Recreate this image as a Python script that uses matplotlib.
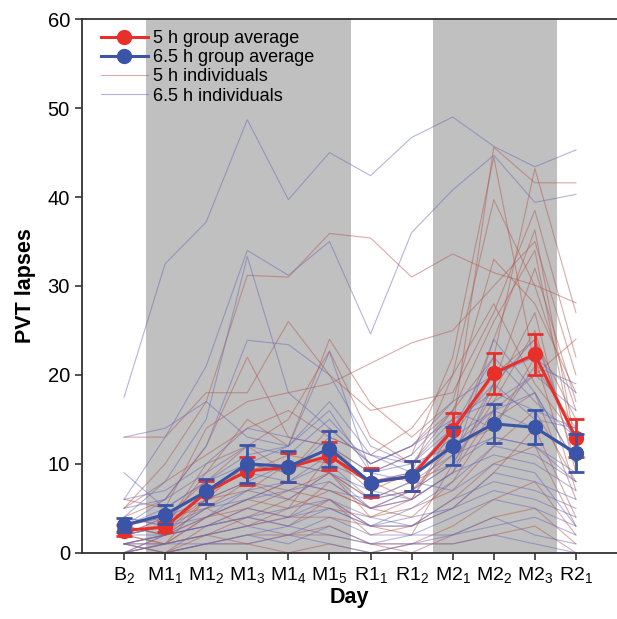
import numpy as np
import matplotlib.pyplot as plt
from matplotlib.lines import Line2D

days = [r'B$_2$', r'M1$_1$', r'M1$_2$', r'M1$_3$', r'M1$_4$', r'M1$_5$',
        r'R1$_1$', r'R1$_2$', r'M2$_1$', r'M2$_2$', r'M2$_3$', r'R2$_1$']

# group averages and standard errors
avg_5h = [2.5, 2.9, 6.8, 9.2, 9.6, 10.9, 7.9, 8.6, 13.8, 20.2, 22.3, 12.9]
se_5h = [0.6, 0.6, 1.3, 1.6, 1.6, 1.6, 1.6, 1.7, 1.9, 2.3, 2.3, 2.1]
avg_65h = [3.1, 4.3, 6.9, 10.0, 9.7, 11.7, 7.9, 8.6, 12.0, 14.5, 14.1, 11.2]
se_65h = [0.8, 1.1, 1.4, 2.1, 1.7, 2.0, 1.4, 1.7, 2.1, 2.2, 1.9, 2.1]

# individual subjects, 5 h group
ind_5h = [
    [5, 10, 17, 31.2, 31.0, 35.9, 35.4, 31.0, 33.6, 31.5, 30.1, 28.1],
    [1, 2, 5, 8, 6, 9, 4, 6, 14, 45.6, 41.6, 41.6],
    [3, 4, 8, 12, 15, 22.7, 13, 10, 16, 22, 43.2, 27],
    [2, 1, 6, 10, 9, 12, 8, 9, 20, 39.7, 30, 16],
    [0, 2, 4, 6, 8, 7, 5, 7, 12, 24, 36.3, 12],
    [13, 13, 18, 18, 26, 20, 16, 17, 18, 27, 38.5, 22],
    [4, 6, 12, 22, 13, 12, 9, 11, 22, 44.5, 21, 14],
    [1, 0, 3, 5, 7, 6, 3, 2, 10, 18, 27, 9],
    [6, 5, 14, 17, 18, 19, 21.3, 23.6, 25, 30, 35, 20],
    [2, 3, 10, 12, 9, 14, 10, 12, 16, 26, 34, 11],
    [0, 1, 2, 4, 3, 6, 2, 3, 5, 9, 14, 4],
    [3, 2, 7, 9, 11, 10, 8, 6, 13, 20, 24, 15],
    [1, 1, 4, 5, 4, 8, 5, 4, 8, 15, 18, 6],
    [0, 0, 1, 2, 2, 3, 1, 1, 3, 6, 8, 2],
    [5, 8, 11, 14, 16, 13, 11, 14, 20, 28, 19, 13],
    [2, 3, 6, 7, 10, 9, 6, 8, 10, 17, 25, 10],
    [1, 2, 3, 4, 6, 5, 4, 5, 7, 12, 16, 8],
    [0, 1, 2, 1, 2, 2, 1, 0, 2, 4, 5, 1],
    [4, 3, 9, 15, 12, 24, 16.8, 13, 17, 33, 28, 18],
    [2, 4, 5, 3, 5, 11, 7, 9, 12, 14, 22, 7],
    [1, 0, 2, 3, 4, 4, 3, 3, 6, 10, 12, 3],
    [3, 2, 6, 8, 7, 9, 6, 7, 11, 19, 32, 17],
    [0, 0, 1, 1, 0, 1, 0, 1, 1, 2, 3, 0],
    [2, 1, 4, 6, 5, 7, 5, 6, 9, 16, 20, 24],
]

# individual subjects, 6.5 h group
ind_65h = [
    [17.5, 32.5, 37.2, 48.7, 39.7, 45.0, 42.4, 46.7, 49.0, 45.7, 43.4, 45.3],
    [6, 13, 21, 34.0, 31.2, 35.0, 24.6, 36.0, 40.8, 44.7, 39.4, 40.3],
    [4, 8, 15, 33.3, 18, 14, 10, 12, 17, 20, 22, 18],
    [3, 6, 12, 23.9, 23.4, 20.0, 12, 10, 15, 18, 16, 14],
    [9, 5, 8, 10, 12, 22.6, 9, 8, 11, 13, 12, 9],
    [2, 3, 5, 7, 8, 10, 6, 7, 10, 24, 18, 10],
    [1, 2, 3, 5, 4, 6, 3, 5, 8, 12, 11, 8],
    [0, 1, 2, 3, 2, 4, 2, 2, 4, 6, 5, 3],
    [3, 4, 6, 8, 10, 9, 7, 6, 9, 19, 24, 12],
    [5, 6, 9, 12, 11, 15, 10, 12, 15, 17, 20, 16],
    [1, 0, 1, 2, 3, 2, 1, 1, 2, 3, 4, 2],
    [2, 2, 4, 6, 7, 8, 5, 6, 9, 11, 10, 7],
    [4, 3, 7, 9, 8, 11, 8, 9, 13, 16, 14, 11],
    [0, 1, 1, 2, 1, 3, 1, 2, 2, 4, 2, 1],
    [2, 4, 7, 10, 9, 13, 11, 10, 14, 22, 17, 13],
    [1, 2, 3, 4, 5, 6, 4, 3, 6, 8, 7, 5],
    [3, 5, 8, 11, 12, 16, 9, 11, 16, 14, 21, 19],
    [0, 0, 1, 1, 2, 1, 0, 1, 1, 2, 1, 0],
    [2, 3, 4, 7, 6, 9, 5, 7, 10, 13, 12, 8],
    [1, 1, 2, 3, 4, 5, 3, 4, 5, 7, 6, 4],
    [6, 7, 10, 14, 13, 12, 9, 10, 12, 16, 18, 10],
    [13, 14, 17, 13, 12, 17, 11, 9, 14, 19, 15, 14],
    [0, 2, 3, 4, 3, 5, 3, 3, 5, 9, 8, 6],
    [3, 2, 5, 6, 8, 7, 6, 8, 7, 10, 9, 3],
]

# restriction periods (shaded)
shade_spans = [(0.53, 5.53), (7.53, 10.53)]

RED = '#e8302a'
BLUE = '#3a55a8'
RED_IND = '#b05a50'
BLUE_IND = '#6a6ab8'


def main():
    plt.rcParams['font.family'] = ['Liberation Sans', 'DejaVu Sans']
    plt.rcParams['mathtext.default'] = 'regular'

    fig = plt.figure(figsize=(6.17, 6.19), dpi=100)
    ax = fig.add_axes([0.1325, 0.107, 0.8675, 0.862])

    for x0, x1 in shade_spans:
        ax.axvspan(x0, x1, color='#c0c0c0', lw=0, zorder=0)

    x = np.arange(len(days))
    for row in ind_5h:
        ax.plot(x, row, color=RED_IND, lw=0.8, alpha=0.5, zorder=1)
    for row in ind_65h:
        ax.plot(x, row, color=BLUE_IND, lw=0.8, alpha=0.5, zorder=1)

    ax.errorbar(x, avg_5h, yerr=se_5h, color=RED, lw=2.2, marker='o', ms=10,
                capsize=6, capthick=2, elinewidth=2, zorder=3)
    ax.errorbar(x, avg_65h, yerr=se_65h, color=BLUE, lw=2.2, marker='o', ms=10,
                capsize=6, capthick=2, elinewidth=2, zorder=4)

    ax.set_xlim(-1.03, 12)
    ax.set_ylim(0, 60)
    ax.set_xticks(x)
    ax.set_xticklabels(days, fontsize=14)
    ax.set_yticks(range(0, 61, 10))
    ax.tick_params(axis='y', labelsize=14.5, length=5, width=1.2, color='#333333')
    ax.tick_params(axis='x', length=5, width=1.2, color='#333333')
    ax.set_xlabel('Day', fontsize=15.5, fontweight='bold', labelpad=2)
    ax.set_ylabel('PVT lapses', fontsize=15.5, fontweight='bold', labelpad=8)
    ax.spines['right'].set_visible(False)
    for s in ['left', 'bottom', 'top']:
        ax.spines[s].set_linewidth(1.3)
        ax.spines[s].set_color('#333333')

    handles = [
        Line2D([], [], color=RED, lw=2.2, marker='o', ms=10),
        Line2D([], [], color=BLUE, lw=2.2, marker='o', ms=10),
        Line2D([], [], color=RED_IND, lw=0.8, alpha=0.5),
        Line2D([], [], color=BLUE_IND, lw=0.8, alpha=0.5),
    ]
    labels = ['5 h group average', '6.5 h group average',
              '5 h individuals', '6.5 h individuals']
    ax.legend(handles, labels, loc='upper left', bbox_to_anchor=(0.015, 1.0),
              frameon=False, fontsize=13, handlelength=2.6, handletextpad=0.3,
              labelspacing=0.12, borderaxespad=0.2)

    fig.savefig('out.png', dpi=100)


if __name__ == "__main__":
    main()
